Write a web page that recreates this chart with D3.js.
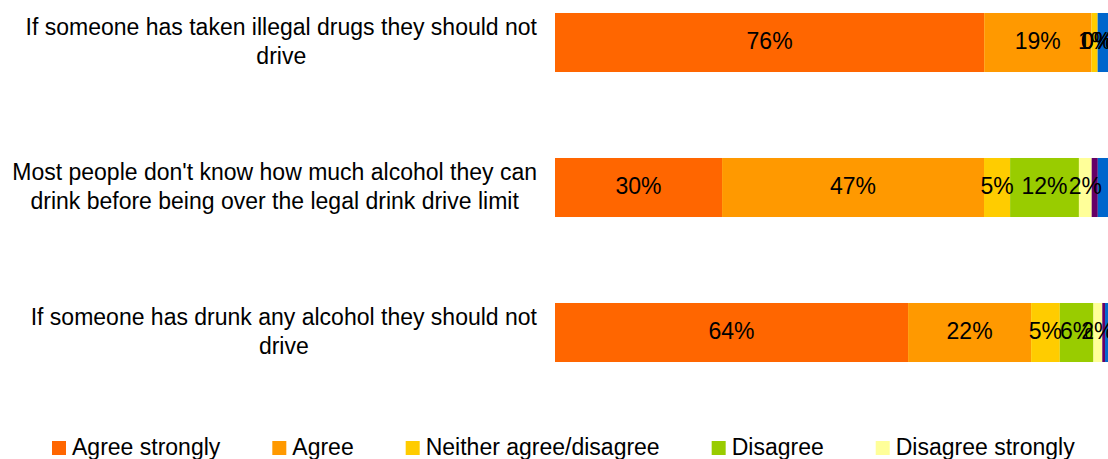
<!DOCTYPE html>
<html>
<head>
<meta charset="utf-8">
<script src="https://cdn.jsdelivr.net/npm/d3@7/dist/d3.min.js"></script>
<style>
  html, body { margin: 0; padding: 0; background: #fff; overflow: hidden; }
  svg { display: block; font-family: "Liberation Sans", Arial, sans-serif; }
</style>
</head>
<body>
<svg id="chart" width="1108" height="459"></svg>
<script>
// ---- Data ----
const categories = ["drugs", "knowLimit", "anyAlcohol"];
const categoryLines = [
  ["If someone has taken illegal drugs they should not", "drive"],
  ["Most people don't know how much alcohol they can", "drink before being over the legal drink drive limit"],
  ["If someone has drunk any alcohol they should not", "drive"]
];
const seriesNames = ["Agree strongly", "Agree", "Neither agree/disagree", "Disagree", "Disagree strongly", "Don't know", "No answer"];
const seriesColors = ["#FF6600", "#FF9900", "#FFCC00", "#99CC00", "#FFFF99", "#660066", "#0066CC"];
const agreeStrongly    = [76.4, 30.1, 64.0];
const agree            = [19.1, 47.2, 22.3];
const neither          = [1.1, 4.7, 5.2];
const disagree         = [0.0, 12.4, 6.1];
const disagreeStrongly = [0.0, 2.3, 1.6];
const dontKnow         = [0.0, 1.1, 0.5];
const noAnswer         = [2.2, 2.2, 0.9];
const labelledSeries = 5;   // first five series carry value labels and legend entries

// ---- Build table ----
const seriesValues = [agreeStrongly, agree, neither, disagree, disagreeStrongly, dontKnow, noAnswer];
const table = categories.map((c, i) => {
  const row = { category: c };
  seriesNames.forEach((s, j) => { row[s] = seriesValues[j][i]; });
  return row;
});

const svg = d3.select("#chart");
const FONT = 23;

const x = d3.scaleLinear().domain([0, 1]).range([555, 1110]);
const y = d3.scaleBand().domain(categories).range([-30, 405])
  .paddingInner(0.593).paddingOuter(0.2965);

const stack = d3.stack().keys(seriesNames).offset(d3.stackOffsetExpand);
const stacked = stack(table);

const color = d3.scaleOrdinal().domain(seriesNames).range(seriesColors);

// Bars
const layers = svg.append("g").selectAll("g")
  .data(stacked).join("g")
  .attr("fill", d => color(d.key));

layers.selectAll("rect")
  .data(d => d.map(p => ({ p, key: d.key })))
  .join("rect")
  .attr("x", d => x(d.p[0]))
  .attr("y", d => y(d.p.data.category))
  .attr("width", d => Math.max(0, x(d.p[1]) - x(d.p[0])))
  .attr("height", y.bandwidth());

// Value labels
const fmt = d3.format(".0f");
const labelG = svg.append("g");
stacked.slice(0, labelledSeries).forEach(layer => {
  layer.forEach(p => {
    labelG.append("text")
      .attr("x", (x(p[0]) + x(p[1])) / 2)
      .attr("y", y(p.data.category) + y.bandwidth() / 2 + 6.5)
      .attr("text-anchor", "middle")
      .attr("font-size", FONT)
      .attr("fill", "#000")
      .text(fmt(p.data[layer.key]) + "%");
  });
});

// Category labels (block right-aligned, lines centred within block)
const catG = svg.append("g");
const rightEdge = 537;
const linePitch = 29;
categories.forEach((c, i) => {
  const lines = categoryLines[i];
  const cy = y(c) + y.bandwidth() / 2;
  const texts = lines.map((ln, k) =>
    catG.append("text")
      .attr("font-size", FONT)
      .attr("fill", "#000")
      .attr("text-anchor", "middle")
      .attr("y", cy + 7 + (k - (lines.length - 1) / 2) * linePitch)
      .text(ln));
  const maxW = d3.max(texts, t => t.node().getComputedTextLength());
  texts.forEach(t => t.attr("x", rightEdge - maxW / 2));
});

// Legend
const legend = svg.append("g");
let lx = 52;
seriesNames.slice(0, labelledSeries).forEach(name => {
  legend.append("rect")
    .attr("x", lx).attr("y", 441)
    .attr("width", 14).attr("height", 14)
    .attr("fill", color(name));
  const t = legend.append("text")
    .attr("x", lx + 20).attr("y", 455)
    .attr("font-size", FONT)
    .attr("fill", "#000")
    .text(name);
  lx += 20 + t.node().getComputedTextLength() + 52;
});
</script>
</body>
</html>
